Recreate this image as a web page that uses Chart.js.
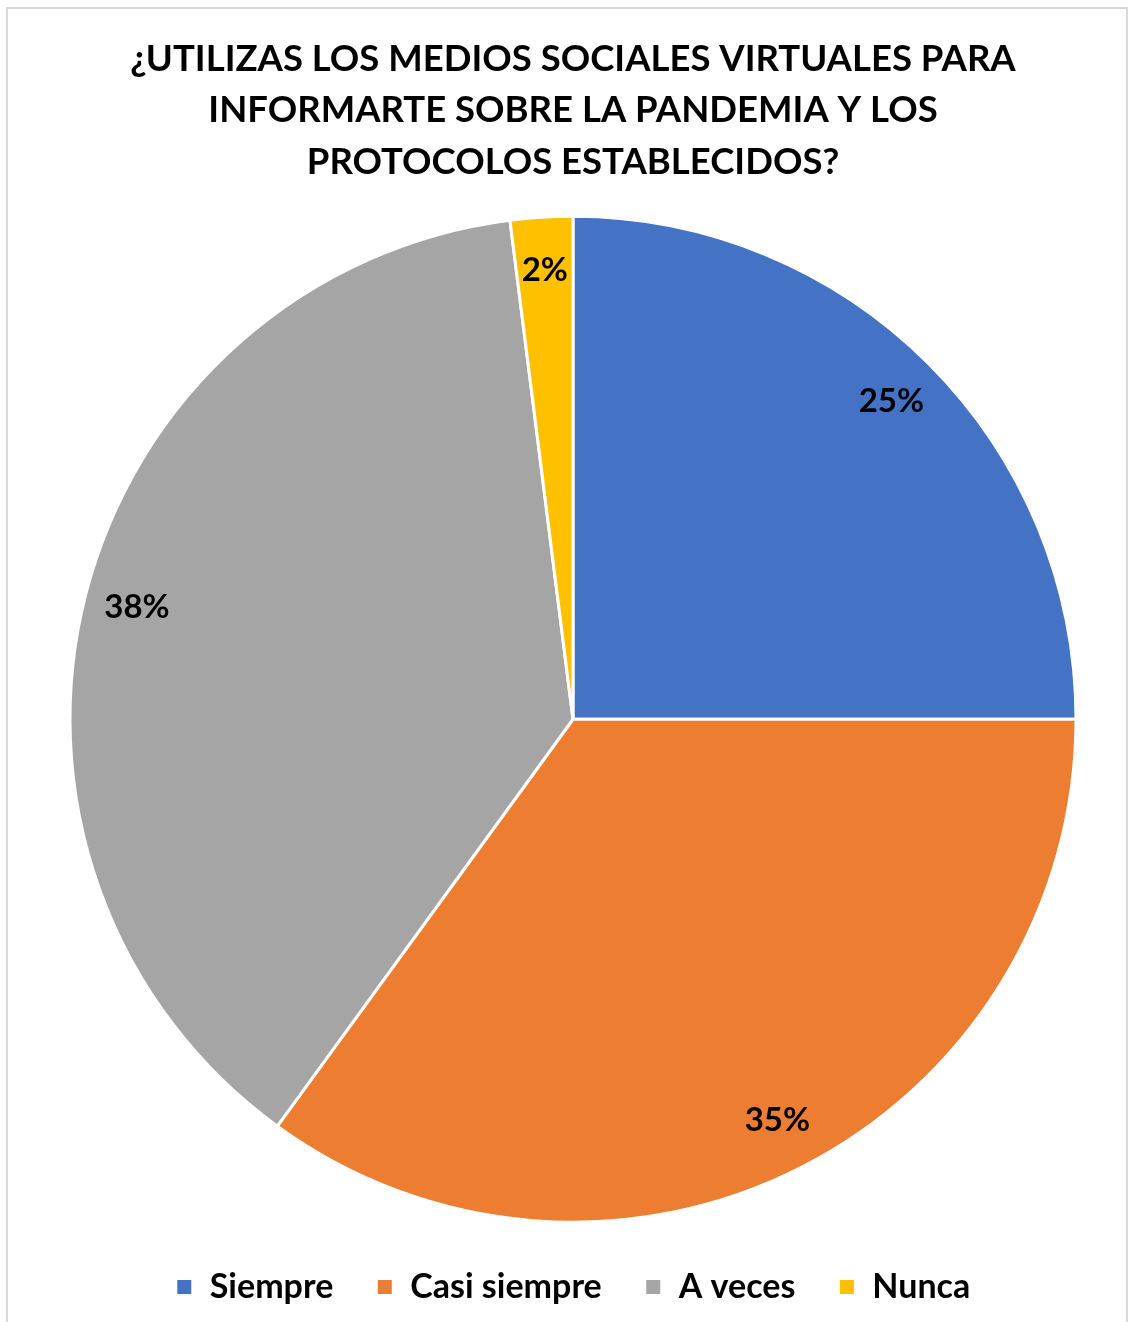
<!DOCTYPE html>
<html>
<head>
<meta charset="utf-8">
<script src="https://cdn.jsdelivr.net/npm/chart.js@4.4.0/dist/chart.umd.min.js"></script>
<style>
  html, body { margin: 0; padding: 0; background: #fff; }
  #wrap { position: relative; width: 1132px; height: 1322px; }
  #marco {
    position: absolute; left: 6px; top: 7px; right: 4px; bottom: -4px;
    border: 2px solid #d9d9d9;
  }
  canvas { position: absolute; left: 0; top: 0; }
</style>
</head>
<body>
<div id="wrap">
  <div id="marco"></div>
  <canvas id="chartUso" width="1132" height="1322"></canvas>
</div>
<script>
// Respuestas de la encuesta (porcentajes)
const categorias = ['Siempre', 'Casi siempre', 'A veces', 'Nunca'];
const porcentajes = [25, 35, 38, 2];
const colores = ['#4472C4', '#ED7D31', '#A5A5A5', '#FFC000'];
const tituloLineas = [
  '¿UTILIZAS LOS MEDIOS SOCIALES VIRTUALES PARA',
  'INFORMARTE SOBRE LA PANDEMIA Y LOS',
  'PROTOCOLOS ESTABLECIDOS?'
];

const fuente = 'Lato, "Open Sans", sans-serif';

// Etiquetas de porcentaje dentro de cada porción
const etiquetasPorcentaje = {
  id: 'etiquetasPorcentaje',
  afterDatasetsDraw(chart) {
    const ctx = chart.ctx;
    const meta = chart.getDatasetMeta(0);
    ctx.save();
    ctx.font = 'bold 33px ' + fuente;
    ctx.fillStyle = '#000';
    ctx.textAlign = 'center';
    ctx.textBaseline = 'middle';
    meta.data.forEach((arc, i) => {
      const medio = (arc.startAngle + arc.endAngle) / 2;
      const r = arc.outerRadius * 0.895;
      const x = arc.x + Math.cos(medio) * r;
      const y = arc.y + Math.sin(medio) * r;
      ctx.fillText(porcentajes[i] + '%', x, y);
    });
    ctx.restore();
  }
};

const ctxUso = document.getElementById('chartUso').getContext('2d');

new Chart(ctxUso, {
  type: 'pie',
  data: {
    labels: categorias,
    datasets: [{
      data: porcentajes,
      backgroundColor: colores,
      borderColor: '#ffffff',
      borderWidth: 3,
      radius: 503
    }]
  },
  options: {
    responsive: false,
    animation: false,
    layout: {
      padding: { left: 14, top: 5, bottom: 8 }
    },
    plugins: {
      title: {
        display: true,
        text: tituloLineas,
        color: '#000',
        font: { family: fuente, size: 36.5, weight: 'bold', lineHeight: 1.411 },
        padding: { top: 28, bottom: 24 }
      },
      legend: {
        display: true,
        position: 'bottom',
        labels: {
          color: '#000',
          font: { family: fuente, size: 34, weight: 'bold' },
          boxWidth: 17,
          boxHeight: 17,
          padding: 43
        }
      },
      tooltip: { enabled: false }
    }
  },
  plugins: [etiquetasPorcentaje]
});
</script>
</body>
</html>
